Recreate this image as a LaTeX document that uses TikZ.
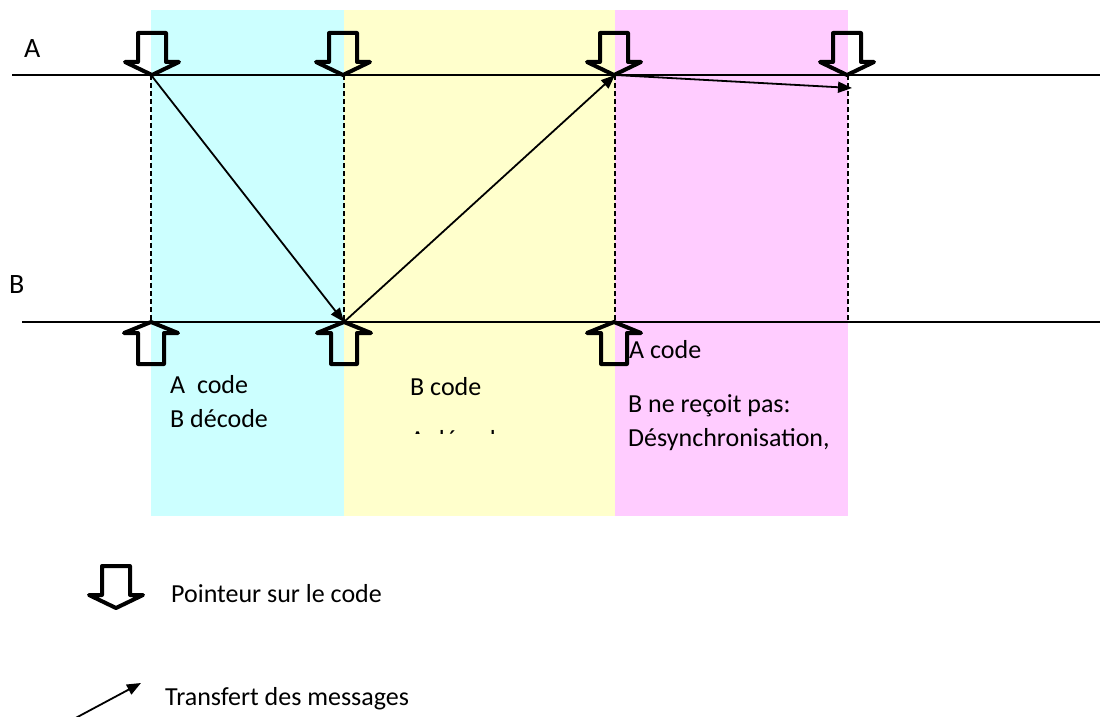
\documentclass[tikz,border=0pt]{standalone}
\usepackage{fontspec}
\setmainfont{Carlito}
\usetikzlibrary{arrows.meta}
\definecolor{bandcyan}{HTML}{CCFFFF}
\definecolor{bandyellow}{HTML}{FFFFCC}
\definecolor{bandpink}{HTML}{FFCCFF}
\tikzset{
  ptr/.style={draw=black, line width=4pt, line join=round, fill=none},
  pdown/.pic={\draw[ptr] (-14,-42) -- (14,-42) -- (14,-13) -- (27,-13) -- (0,0) -- (-27,-13) -- (-14,-13) -- cycle;},
  pup/.pic={\draw[ptr] (-13,42) -- (13,42) -- (13,11) -- (27,11) -- (0,0) -- (-27,11) -- (-13,11) -- cycle;},
  timeline/.style={line width=1.6pt},
  sep/.style={line width=1.4pt, dash pattern=on 5pt off 3pt},
  msg/.style={line width=1.8pt, -{Triangle[length=14pt, width=11pt]}},
  txt/.style={anchor=base west, inner sep=0pt, font=\fontsize{26}{30}\selectfont},
  lbl/.style={anchor=base west, inner sep=0pt, font=\fontsize{28}{32}\selectfont},
}
\begin{document}
\begin{tikzpicture}[x=1pt, y=-1pt]
\useasboundingbox (0,0) rectangle (1103,717);
% bands
\fill[bandcyan] (151,10) rectangle (344,516);
\fill[bandyellow] (344,10) rectangle (615,516);
\fill[bandpink] (615,10) rectangle (848,516);
% timelines
\coordinate (Astart) at (12,75);
\coordinate (Aend) at (1100,75);
\coordinate (Bstart) at (22,322);
\coordinate (Bend) at (1100,322);
\draw[timeline] (Astart) -- (Aend);
\draw[timeline] (Bstart) -- (Bend);
\node[lbl] (labA) at (24,58) {A};
\node[lbl] (labB) at (9,293) {B};
% event points
\coordinate (a1) at (151,75);
\coordinate (a2) at (344,75);
\coordinate (a3) at (615,75);
\coordinate (a4) at (848,75);
\coordinate (b1) at (151,322);
\coordinate (b2) at (344,322);
\coordinate (b3) at (615,322);
\coordinate (b4) at (848,322);
\coordinate (a4m) at (852,88);
% dashed separators
\draw[sep] (a1) -- (b1);
\draw[sep] (a2) -- (b2);
\draw[sep] (a3) -- (b3);
\draw[sep] (a4) -- (b4);
% pointers
\pic at (152,75) {pdown};
\pic at (343,75) {pdown};
\pic at (614,75) {pdown};
\pic at (847,75) {pdown};
\pic at (151,322) {pup};
\pic at (344,322) {pup};
\pic at (614,322) {pup};
% messages
\draw[msg] (a1) -- (b2);
\draw[msg] (b2) -- (a3);
\draw[msg] (a3) -- (a4m);
% texts
\node[txt] (t1) at (170,393) {A\ \ code};
\node[txt] (t2) at (170,427) {B décode};
\node[txt] (t3) at (410,395) {B code};
\begin{scope}
\clip (380,400) rectangle (600,433);
\node[txt] (t4) at (410,448) {A décode};
\end{scope}
\node[txt] (t5) at (629,358) {A code};
\node[txt] (t6) at (628,412) {B ne reçoit pas:};
\node[txt] (t7) at (628,446) {Désynchronisation,};
% legend
\pic at (116,608) {pdown};
\node[txt] (l1) at (171,602) {Pointeur sur le code};
\coordinate (lg1) at (70,721);
\coordinate (lg2) at (141,683);
\draw[msg] (lg1) -- (lg2);
\node[txt] (l2) at (165,705) {Transfert des messages};
\end{tikzpicture}
\end{document}
